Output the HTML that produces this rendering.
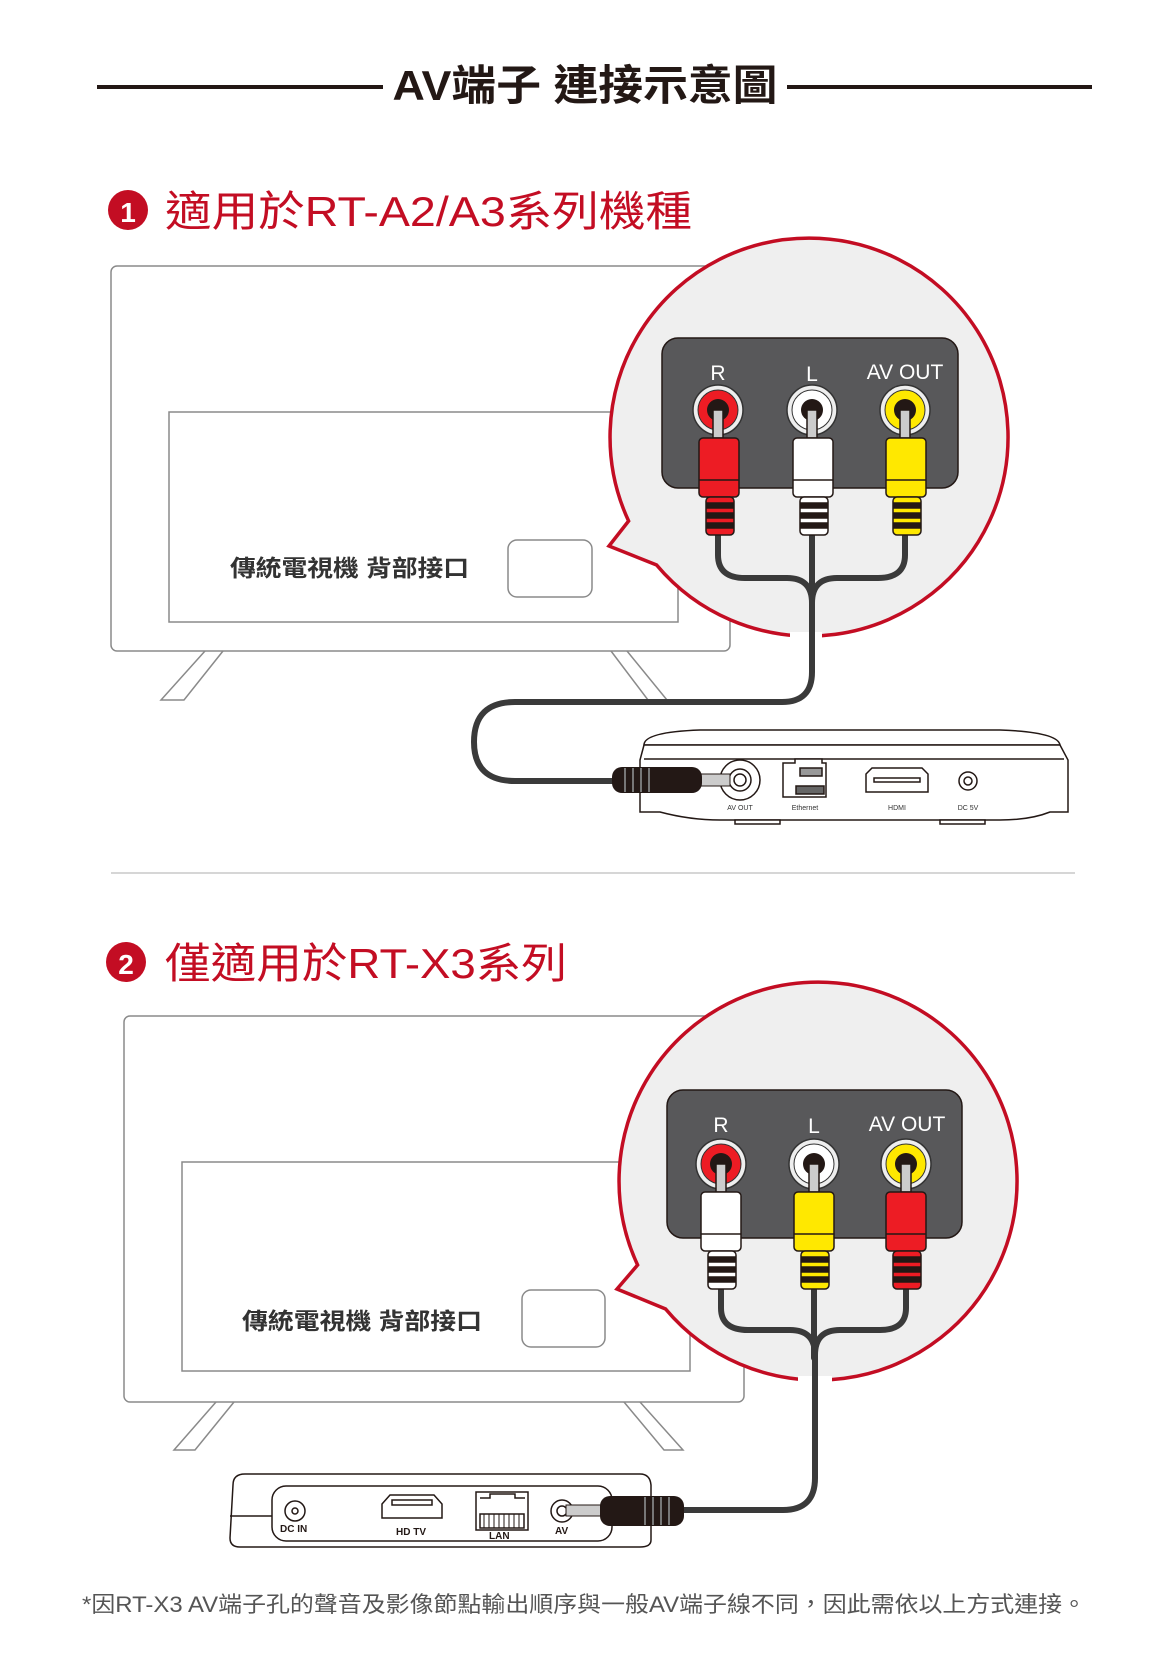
<!DOCTYPE html>
<html><head><meta charset="utf-8"><style>
html,body{margin:0;padding:0;background:#fff;}
svg{display:block;}
text{font-family:"Liberation Sans","Noto Sans CJK TC",sans-serif;}
</style></head><body>
<svg width="1170" height="1667" viewBox="0 0 1170 1667" xmlns="http://www.w3.org/2000/svg">
<defs>
<g id="jackRed"><circle r="25" fill="#eee" stroke="#333" stroke-width="1.5"/><circle r="20" fill="#ed1c24" stroke="#333" stroke-width="1"/><circle r="11" fill="#231815"/></g>
<g id="jackWhite"><circle r="25" fill="#eee" stroke="#333" stroke-width="1.5"/><circle r="20" fill="#fff" stroke="#333" stroke-width="1"/><circle r="11" fill="#231815"/></g>
<g id="jackYellow"><circle r="25" fill="#eee" stroke="#333" stroke-width="1.5"/><circle r="20" fill="#ffe800" stroke="#333" stroke-width="1"/><circle r="11" fill="#231815"/></g>
</defs>

<!-- Title -->
<line x1="97" y1="87" x2="383" y2="87" stroke="#231815" stroke-width="4"/>
<line x1="787" y1="87" x2="1092" y2="87" stroke="#231815" stroke-width="4"/>
<text x="585" y="100" text-anchor="middle" font-size="42" font-weight="bold" fill="#231815" textLength="385" lengthAdjust="spacingAndGlyphs">AV端子 連接示意圖</text>

<!-- Section 1 header -->
<circle cx="128" cy="210" r="20" fill="#c30d23"/>
<text x="128" y="222" text-anchor="middle" font-size="28" font-weight="bold" fill="#fff">1</text>
<text x="165" y="226" font-size="42" fill="#c30d23" textLength="527" lengthAdjust="spacingAndGlyphs">適用於RT-A2/A3系列機種</text>

<!-- TV 1 -->
<rect x="111" y="266" width="619" height="385" rx="6" fill="#fff" stroke="#8a8a8a" stroke-width="1.5"/>
<rect x="169" y="412" width="509" height="210" fill="#fff" stroke="#8a8a8a" stroke-width="1.5"/>
<text x="230" y="576" font-size="23" font-weight="bold" fill="#333" textLength="239" lengthAdjust="spacingAndGlyphs">傳統電視機 背部接口</text>
<rect x="508" y="540" width="84" height="57" rx="9" fill="#fff" stroke="#8a8a8a" stroke-width="1.5"/>
<path d="M205,651 L161,700 L184,700 L223,651" fill="none" stroke="#8a8a8a" stroke-width="1.5"/>
<path d="M611,651 L648,700 L667,700 L627,651" fill="none" stroke="#8a8a8a" stroke-width="1.5"/>

<!-- Magnifier 1 -->
<path d="M628.6,521 L609,546 L656.6,565 A199,199 0 1 0 628.6,521 Z" fill="#efefef" stroke="#c30d23" stroke-width="3.5" stroke-linejoin="miter"/>
<line x1="790" y1="636" x2="822" y2="636" stroke="#fff" stroke-width="8"/>
<rect x="662" y="338" width="296" height="150" rx="16" fill="#58585a" stroke="#231815" stroke-width="1.5"/>
<text x="718" y="380" text-anchor="middle" font-size="21" fill="#fff">R</text>
<text x="812" y="381" text-anchor="middle" font-size="21" fill="#fff">L</text>
<text x="905" y="379" text-anchor="middle" font-size="21" fill="#fff">AV OUT</text>
<use href="#jackRed" x="718" y="410"/>
<use href="#jackWhite" x="812" y="410"/>
<use href="#jackYellow" x="905" y="410"/>

<g fill="none" stroke="#3a3a3a" stroke-width="6" stroke-linecap="round">
<path d="M718,530 V555 Q718,578 745,578 H787 Q812,578 812,603 V672 Q812,702 782,702 H515 Q474,702 474,742 Q474,781 515,781 H612"/>
<path d="M905,530 V555 Q905,578 878,578 H837 Q812,578 812,603"/>
<path d="M812,530 V605"/>
</g>

<g stroke="#231815" stroke-width="1.5">
<rect x="713" y="410" width="10" height="28" fill="#ccc"/>
<rect x="699" y="438" width="40" height="59" rx="4" fill="#ed1c24"/>
<line x1="699" y1="480" x2="739" y2="480"/>
<rect x="706" y="497" width="28" height="38" rx="4" fill="#ed1c24"/>
<rect x="707" y="503" width="26" height="5" fill="#231815"/><rect x="707" y="513" width="26" height="5" fill="#231815"/><rect x="707" y="523" width="26" height="5" fill="#231815"/>

<rect x="807" y="410" width="10" height="28" fill="#ccc"/>
<rect x="793" y="438" width="40" height="59" rx="4" fill="#fff"/>
<line x1="793" y1="480" x2="833" y2="480"/>
<rect x="800" y="497" width="28" height="38" rx="4" fill="#fff"/>
<rect x="801" y="503" width="26" height="5" fill="#231815"/><rect x="801" y="513" width="26" height="5" fill="#231815"/><rect x="801" y="523" width="26" height="5" fill="#231815"/>

<rect x="900" y="410" width="10" height="28" fill="#ccc"/>
<rect x="886" y="438" width="40" height="59" rx="4" fill="#ffe800"/>
<line x1="886" y1="480" x2="926" y2="480"/>
<rect x="893" y="497" width="28" height="38" rx="4" fill="#ffe800"/>
<rect x="894" y="503" width="26" height="5" fill="#231815"/><rect x="894" y="513" width="26" height="5" fill="#231815"/><rect x="894" y="523" width="26" height="5" fill="#231815"/>
</g>

<!-- Box 1 -->
<g fill="#fff" stroke="#231815" stroke-width="1.5">
<path d="M644,745 Q644,732 700,730 H1000 Q1058,732 1060,745 Z"/>
<path d="M644,745 H1060 L1068,760 L1068,812 L1050,812 Q1030,820 1000,820 H720 Q690,820 660,812 L640,812 L640,760 Z"/>
<line x1="644" y1="759" x2="1064" y2="759"/>
<rect x="735" y="820" width="45" height="4"/><rect x="940" y="820" width="45" height="4"/>
<circle cx="740" cy="780" r="20"/><circle cx="740" cy="780" r="11"/><circle cx="740" cy="780" r="6"/>
<path d="M783,763 H795 V759 H822 V763 H826 V797 H783 Z"/>
<rect x="800" y="768" width="22" height="8" fill="#999"/>
<rect x="796" y="786" width="28" height="8" fill="#666"/>
<path d="M866,774 L872,768 H922 L928,774 V792 H866 Z"/>
<rect x="874" y="778" width="46" height="4" fill="#fff"/>
<circle cx="968" cy="781" r="9"/><circle cx="968" cy="781" r="4"/>
</g>
<g font-size="7" fill="#333" text-anchor="middle">
<text x="740" y="810">AV OUT</text><text x="805" y="810">Ethernet</text><text x="897" y="810">HDMI</text><text x="968" y="810">DC 5V</text>
</g>
<rect x="700" y="774" width="30" height="12" fill="#ccc" stroke="#231815" stroke-width="1"/>
<rect x="612" y="767" width="90" height="26" rx="10" fill="#231815"/>
<g stroke="#777" stroke-width="2"><line x1="625" y1="768" x2="625" y2="792"/><line x1="633" y1="768" x2="633" y2="792"/><line x1="641" y1="768" x2="641" y2="792"/><line x1="649" y1="768" x2="649" y2="792"/></g>

<!-- divider -->
<line x1="111" y1="873" x2="1075" y2="873" stroke="#c8c8c8" stroke-width="1.5"/>

<g transform="translate(0,8)">
<!-- Section 2 header -->
<circle cx="126" cy="954" r="20" fill="#c30d23"/>
<text x="126" y="966" text-anchor="middle" font-size="28" font-weight="bold" fill="#fff">2</text>
<text x="165" y="970" font-size="42" fill="#c30d23" textLength="402" lengthAdjust="spacingAndGlyphs">僅適用於RT-X3系列</text>

<!-- TV 2 -->
<rect x="124" y="1008" width="620" height="386" rx="6" fill="#fff" stroke="#8a8a8a" stroke-width="1.5"/>
<rect x="182" y="1154" width="508" height="209" fill="#fff" stroke="#8a8a8a" stroke-width="1.5"/>
<text x="242" y="1321" font-size="23" font-weight="bold" fill="#333" textLength="240" lengthAdjust="spacingAndGlyphs">傳統電視機 背部接口</text>
<rect x="522" y="1282" width="83" height="57" rx="9" fill="#fff" stroke="#8a8a8a" stroke-width="1.5"/>
<path d="M216,1394 L174,1442 L195,1442 L234,1394" fill="none" stroke="#8a8a8a" stroke-width="1.5"/>
<path d="M624,1394 L664,1442 L683,1442 L640,1394" fill="none" stroke="#8a8a8a" stroke-width="1.5"/>

<!-- Magnifier 2 -->
<path d="M637.6,1257 L617,1281 L665.6,1301 A199,199 0 1 0 637.6,1257 Z" fill="#efefef" stroke="#c30d23" stroke-width="3.5"/>
<line x1="798" y1="1372" x2="832" y2="1372" stroke="#fff" stroke-width="8"/>
<rect x="667" y="1082" width="295" height="148" rx="16" fill="#58585a" stroke="#231815" stroke-width="1.5"/>
<text x="721" y="1124" text-anchor="middle" font-size="21" fill="#fff">R</text>
<text x="814" y="1125" text-anchor="middle" font-size="21" fill="#fff">L</text>
<text x="907" y="1123" text-anchor="middle" font-size="21" fill="#fff">AV OUT</text>
<use href="#jackRed" x="721" y="1156"/>
<use href="#jackWhite" x="814" y="1156"/>
<use href="#jackYellow" x="906" y="1156"/>

<g fill="none" stroke="#3a3a3a" stroke-width="6" stroke-linecap="round">
<path d="M721,1275 V1300 Q721,1322 748,1322 H790 Q815,1322 815,1347 V1470 Q815,1502 783,1502 H683"/>
<path d="M906,1275 V1300 Q906,1322 880,1322 H840 Q815,1322 815,1347"/>
<path d="M814,1275 V1350"/>
</g>

<g stroke="#231815" stroke-width="1.5">
<rect x="716" y="1156" width="10" height="28" fill="#ccc"/>
<rect x="701" y="1184" width="40" height="59" rx="4" fill="#fff"/>
<line x1="701" y1="1226" x2="741" y2="1226"/>
<rect x="708" y="1243" width="28" height="38" rx="4" fill="#fff"/>
<rect x="709" y="1249" width="26" height="5" fill="#231815"/><rect x="709" y="1259" width="26" height="5" fill="#231815"/><rect x="709" y="1269" width="26" height="5" fill="#231815"/>

<rect x="809" y="1156" width="10" height="28" fill="#ccc"/>
<rect x="794" y="1184" width="40" height="59" rx="4" fill="#ffe800"/>
<line x1="794" y1="1226" x2="834" y2="1226"/>
<rect x="801" y="1243" width="28" height="38" rx="4" fill="#ffe800"/>
<rect x="802" y="1249" width="26" height="5" fill="#231815"/><rect x="802" y="1259" width="26" height="5" fill="#231815"/><rect x="802" y="1269" width="26" height="5" fill="#231815"/>

<rect x="901" y="1156" width="10" height="28" fill="#ccc"/>
<rect x="886" y="1184" width="40" height="59" rx="4" fill="#ed1c24"/>
<line x1="886" y1="1226" x2="926" y2="1226"/>
<rect x="893" y="1243" width="28" height="38" rx="4" fill="#ed1c24"/>
<rect x="894" y="1249" width="26" height="5" fill="#231815"/><rect x="894" y="1259" width="26" height="5" fill="#231815"/><rect x="894" y="1269" width="26" height="5" fill="#231815"/>
</g>

<!-- Box 2 -->
<g fill="#fff" stroke="#231815" stroke-width="1.5">
<path d="M233,1477 Q233,1466 245,1466 H640 Q650,1466 651,1477 V1532 Q651,1539 640,1539 H240 Q230,1539 230,1530 Z"/>
<rect x="272" y="1478" width="340" height="55" rx="14"/>
<line x1="230" y1="1508" x2="272" y2="1508"/>
<circle cx="295" cy="1503" r="10"/><circle cx="295" cy="1503" r="3"/>
<path d="M382,1496 L390,1487 H434 L442,1496 V1510 H382 Z"/>
<rect x="392" y="1492" width="40" height="5"/>
<rect x="476" y="1484" width="52" height="38"/>
<path d="M480,1490 H490 V1486 H515 V1490 H525"/>
<rect x="480" y="1506" width="44" height="14" fill="#fff"/>
<g stroke-width="1"><line x1="484" y1="1506" x2="484" y2="1520"/><line x1="489" y1="1506" x2="489" y2="1520"/><line x1="494" y1="1506" x2="494" y2="1520"/><line x1="499" y1="1506" x2="499" y2="1520"/><line x1="504" y1="1506" x2="504" y2="1520"/><line x1="509" y1="1506" x2="509" y2="1520"/><line x1="514" y1="1506" x2="514" y2="1520"/><line x1="519" y1="1506" x2="519" y2="1520"/></g>
<circle cx="562" cy="1503" r="11"/><circle cx="562" cy="1503" r="5"/>
</g>
<rect x="566" y="1497" width="40" height="11" fill="#ccc" stroke="#231815" stroke-width="1"/>
<rect x="600" y="1488" width="84" height="30" rx="10" fill="#231815"/>
<g stroke="#777" stroke-width="2"><line x1="645" y1="1489" x2="645" y2="1517"/><line x1="653" y1="1489" x2="653" y2="1517"/><line x1="661" y1="1489" x2="661" y2="1517"/><line x1="669" y1="1489" x2="669" y2="1517"/></g>
<g font-size="10" font-weight="bold" fill="#231815">
<text x="280" y="1524">DC IN</text><text x="396" y="1527">HD TV</text><text x="489" y="1531">LAN</text><text x="555" y="1526">AV</text>
</g>
</g>

<!-- footnote -->
<text x="82" y="1612" font-size="22" fill="#555" textLength="1004" lengthAdjust="spacingAndGlyphs">*因RT-X3 AV端子孔的聲音及影像節點輸出順序與一般AV端子線不同，因此需依以上方式連接。</text>
</svg>
</body></html>
